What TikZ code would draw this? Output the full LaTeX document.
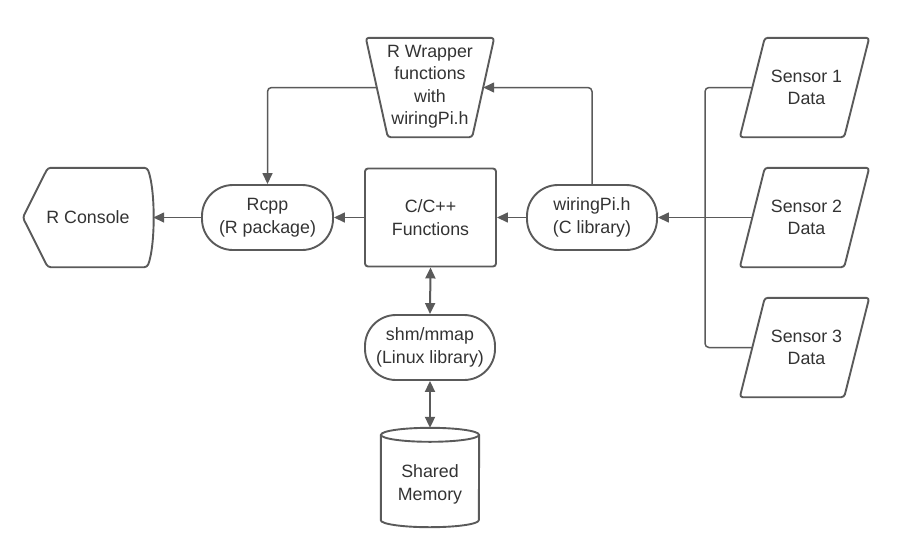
\documentclass[tikz,border=0pt]{standalone}
\usepackage{fontspec}
\setmainfont{Liberation Sans}
\usetikzlibrary{arrows.meta,calc}
\definecolor{edge}{HTML}{5A5A5A}
\definecolor{ink}{HTML}{333333}
\begin{document}
\begin{tikzpicture}[x=1pt,y=-1pt,
  lbl/.style={text=ink, align=center, inner sep=0pt, font=\fontsize{17.8}{22.5}\selectfont},
  box/.style={lbl, draw=edge, line width=1.9pt},
  ghost/.style={lbl},
  outline/.style={draw=edge, line width=1.9pt, line join=round, rounded corners=3pt},
  tip/.tip={Triangle[length=11pt,width=10pt]},
  conn/.style={draw=edge, line width=1.5pt, -tip, rounded corners=4pt},
  dconn/.style={draw=edge, line width=2pt, tip-tip},
  bus/.style={draw=edge, line width=1.5pt, rounded corners=4pt}]
\useasboundingbox (0,0) rectangle (900,558);

% nodes
\node[ghost, minimum width=130, minimum height=99] (con) at (88,217.5) {R Console};
\node[box, rounded corners=31pt, minimum width=131, minimum height=65] (rcpp) at (267.5,217.5) {Rcpp\\(R package)};
\node[box, rounded corners=3pt, minimum width=131, minimum height=98] (cpp) at (430.5,217.5) {C/C++\\Functions};
\node[box, rounded corners=31pt, minimum width=130, minimum height=65] (wpi) at (592,217.5) {wiringPi.h\\(C library)};
\node[box, rounded corners=31pt, minimum width=130, minimum height=65] (shm) at (430,347.5) {shm/mmap\\(Linux library)};
\node[ghost, minimum width=106, minimum height=99] (tw) at (430,86.5) {R Wrapper\\functions\\with\\wiringPi.h};
\node[ghost, minimum width=104, minimum height=99, xshift=2pt] (s1) at (804.5,87.5) {Sensor 1\\Data};
\node[ghost, minimum width=104, minimum height=99, xshift=2pt] (s2) at (804.5,217.5) {Sensor 2\\Data};
\node[ghost, minimum width=104, minimum height=99, xshift=2pt] (s3) at (804.5,347.5) {Sensor 3\\Data};
\node[ghost, minimum width=98, minimum height=85] (cyl) at (430,484.5) {Shared\\Memory};

% outlines of special shapes
\draw[outline] (con.west) -- ([xshift=25pt]con.north west) -- ([xshift=-6pt]con.north east)
  .. controls ($(con.north east)+(2.3,22)$) and ($(con.south east)+(2.3,-22)$) .. ([xshift=-6pt]con.south east)
  -- ([xshift=25pt]con.south west) -- cycle;
\draw[outline] ([xshift=-11pt,yshift=-1pt]tw.north west) -- ([xshift=11pt,yshift=-1pt]tw.north east)
  -- ([xshift=-11pt,yshift=-1pt]tw.south east) -- ([xshift=11pt,yshift=-1pt]tw.south west) -- cycle;
\foreach \s in {s1,s2,s3}{
  \draw[outline] ([xshift=10.5pt]\s.north west) -- ([xshift=10.5pt]\s.north east)
    -- ([xshift=-14.5pt]\s.south east) -- ([xshift=-14.5pt]\s.south west) -- cycle;
}
\draw[draw=edge, line width=1.9pt, line join=round]
  ($(cyl.north west)+(0,-7)$) -- ($(cyl.south west)+(0,-7)$)
  arc[start angle=180, end angle=360, x radius=49pt, y radius=7pt]
  -- ($(cyl.north east)+(0,-7)$);
\draw[draw=edge, line width=1.9pt] ($(cyl.north)+(0,-7)$) ellipse [x radius=49pt, y radius=7pt];
\coordinate (cyltop) at ([yshift=14pt]cyl.north);
\coordinate (bus) at (705,217.5);
\coordinate (s1in) at ([xshift=-2pt]s1.west);
\coordinate (s2in) at ([xshift=-2pt]s2.west);
\coordinate (s3in) at ([xshift=-2pt]s3.west);

% connectors
\draw[conn] (rcpp.west) -- (con.east);
\draw[conn] (cpp.west) -- (rcpp.east);
\draw[conn] (wpi.west) -- (cpp.east);
\draw[conn] (wpi.north) |- ([yshift=-1pt]tw.east);
\draw[conn] ([yshift=-1pt]tw.west) -| (rcpp.north);
\draw[dconn] (cpp.south) -- (shm.north);
\draw[dconn] (shm.south) -- (cyltop);
\draw[bus] (s1in) -| (bus) |- (s3in);
\draw[conn] (s2in) -- (wpi.east);
\end{tikzpicture}
\end{document}
